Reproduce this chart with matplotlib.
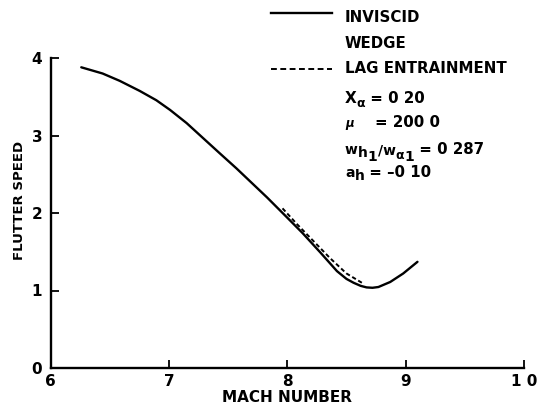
import matplotlib
matplotlib.use("Agg")
import matplotlib.pyplot as plt
from matplotlib.lines import Line2D

plt.rcParams['font.family'] = ['DejaVu Sans']
plt.rcParams['font.weight'] = 'bold'
plt.rcParams['mathtext.fontset'] = 'dejavusans'

# Data
inviscid_mach = [6.26, 6.44, 6.585, 6.754, 6.894, 7.01, 7.15, 7.29, 7.43, 7.57, 7.83,
                 8.00, 8.13, 8.28, 8.42, 8.50, 8.56, 8.62, 8.67, 8.72, 8.77, 8.87, 8.98, 9.10]
inviscid_speed = [3.88, 3.80, 3.705, 3.575, 3.455, 3.33, 3.16, 2.965, 2.77, 2.577, 2.20,
                  1.94, 1.74, 1.49, 1.25, 1.15, 1.10, 1.06, 1.04, 1.035, 1.045, 1.11, 1.22, 1.37]
lag_mach = [7.96, 8.08, 8.22, 8.36, 8.50, 8.63]
lag_speed = [2.06, 1.86, 1.64, 1.42, 1.22, 1.10]

x_ticks = [6, 7, 8, 9, 10]
x_ticklabels = ["6", "7", "8", "9", "1 0"]
y_ticks = [0, 1, 2, 3, 4]
y_ticklabels = ["0", "1", "2", "3", "4"]

legend_labels = ["INVISCID", "WEDGE", "LAG ENTRAINMENT"]

W, H = 539, 412
fig = plt.figure(figsize=(W / 100, H / 100), dpi=100)
ax = fig.add_axes([50.5 / W, 44 / H, 473.5 / W, 310 / H])

ax.plot(inviscid_mach, inviscid_speed, color='black', lw=1.7,
        solid_joinstyle='round', solid_capstyle='round')
ax.plot(lag_mach, lag_speed, color='black', lw=1.4, linestyle=(0, (2.2, 1.4)))

ax.set_xlim(6, 10)
ax.set_ylim(0, 4)
ax.set_xticks(x_ticks)
ax.set_xticklabels(x_ticklabels, fontsize=11, fontweight='bold')
ax.set_yticks(y_ticks)
ax.set_yticklabels(y_ticklabels, fontsize=11, fontweight='bold')
ax.tick_params(direction='in', length=6, width=1.3)
ax.tick_params(axis='x', pad=4)
ax.tick_params(axis='y', pad=6)
for s in ['top', 'right']:
    ax.spines[s].set_visible(False)
for s in ['left', 'bottom']:
    ax.spines[s].set_linewidth(1.7)

ax.set_xlabel("MACH NUMBER", fontsize=11, fontweight='bold', labelpad=1)
ax.set_ylabel("FLUTTER SPEED", fontsize=9.5, fontweight='bold')
ax.yaxis.set_label_coords(-0.052, 0.54)


def fx(px):
    return px / W


def fy(py):
    return 1 - py / H


# legend line samples
fig.add_artist(Line2D([fx(271), fx(332)], [fy(13), fy(13)], color='black', lw=1.7,
                      transform=fig.transFigure))
fig.add_artist(Line2D([fx(271), fx(332)], [fy(69), fy(69)], color='black', lw=1.4,
                      linestyle=(0, (3, 1.8)), transform=fig.transFigure))

text_x = 345
for label, base in zip(legend_labels, [22, 48, 73]):
    fig.text(fx(text_x), fy(base), label, fontsize=10.8, fontweight='bold',
             va='baseline', ha='left')

renderer = fig.canvas.get_renderer()


def rich(x_px, base_px, pieces):
    x = x_px
    for txt, size, dy, style in pieces:
        t = fig.text(fx(x), fy(base_px - dy), txt, fontsize=size, fontweight='bold',
                     fontstyle=style, va='baseline', ha='left')
        x += t.get_window_extent(renderer).width


rich(text_x, 103, [("X", 11, 0, 'normal'), ("α", 9, -4, 'normal'),
                   (" = 0 20", 10.8, 0, 'normal')])
rich(text_x, 127, [("μ", 8.5, 0, 'italic'), ("    = 200 0", 10.8, 0, 'normal')])
rich(text_x, 154, [("w", 10, 0, 'normal'), ("h", 10, -3, 'normal'), ("1", 10, -7, 'normal'),
                   ("/w", 10, 0, 'normal'), ("α", 9, -5, 'normal'), ("1", 10, -7, 'normal'),
                   (" = 0 287", 10.8, 0, 'normal')])
rich(text_x, 177, [("a", 10, 0, 'normal'), ("h", 10, -3, 'normal'),
                   (" = –0 10", 10.8, 0, 'normal')])

fig.savefig("out.png", dpi=100)
